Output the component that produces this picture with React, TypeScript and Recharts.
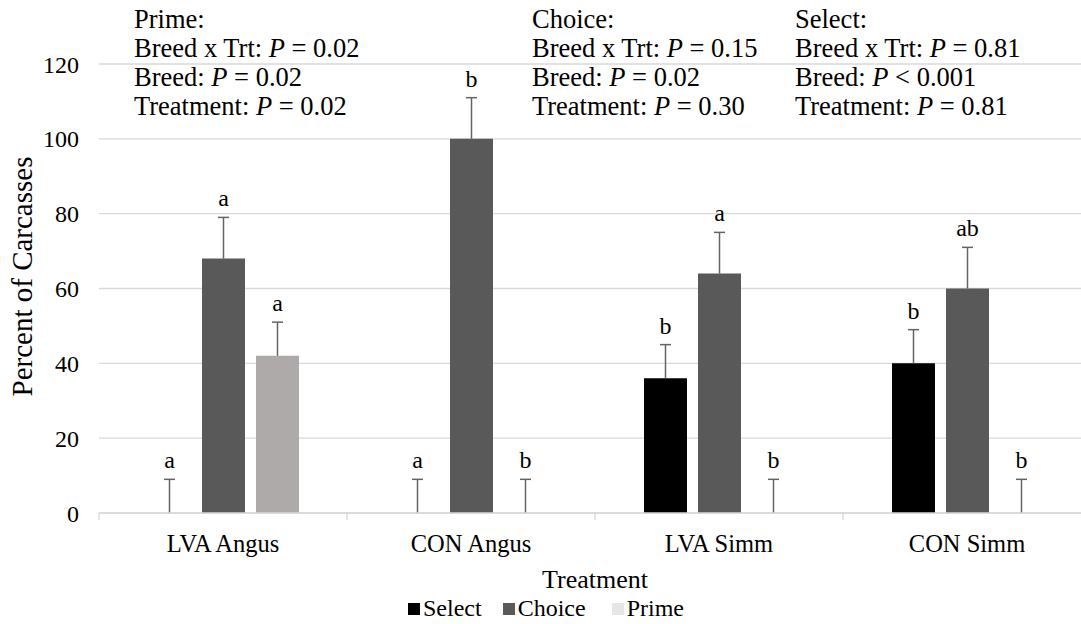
import React from "react";
import {
  BarChart,
  Bar,
  XAxis,
  YAxis,
  CartesianGrid,
  LabelList,
  Legend,
  ReferenceLine,
} from "recharts";

const treatments = ["LVA Angus", "CON Angus", "LVA Simm", "CON Simm"];

// percent of carcasses per grade, with the upper error (SE) of each bar
const selectPct = [0, 0, 36, 40];
const choicePct = [68, 100, 64, 60];
const primePct = [42, 0, 0, 0];
const selectSe = [9, 9, 9, 9];
const choiceSe = [11, 11, 11, 11];
const primeSe = [9, 9, 9, 9];

// mean separation letters
const selectLetters = ["a", "a", "b", "b"];
const choiceLetters = ["a", "b", "a", "ab"];
const primeLetters = ["a", "b", "b", "b"];

const yTicks = [0, 20, 40, 60, 80, 100, 120];

// P-value notes printed above the bars
const gradeTitles = ["Prime:", "Choice:", "Select:"];
const interactionP = ["= 0.02", "= 0.15", "= 0.81"];
const breedP = ["= 0.02", "= 0.02", "< 0.001"];
const treatmentP = ["= 0.02", "= 0.30", "= 0.81"];
const noteLeft = [134, 532, 795];

const legendItems = [
  { name: "Select", color: "#000000", gap: 21 },
  { name: "Choice", color: "#595959", gap: 26 },
  { name: "Prime", color: "#E7E6E6", gap: 0 },
];

const FONT = "Liberation Serif, Times New Roman, serif";
const GRID = "#D9D9D9";
const WHISKER = "#646464";

const data = treatments.map((name, i) => ({
  name,
  select: selectPct[i],
  choice: choicePct[i],
  prime: primePct[i],
  selectSe: selectSe[i],
  choiceSe: choiceSe[i],
  primeSe: primeSe[i],
  selectLetter: selectLetters[i],
  choiceLetter: choiceLetters[i],
  primeLetter: primeLetters[i],
}));

// upper error whisker: stem over the stacked SE segment plus a cap on top
function Whisker(props: any) {
  const { x, y, width, height } = props;
  if (x == null || y == null || !height) return null;
  const cx = x + width / 2;
  return (
    <g stroke={WHISKER} strokeWidth={1.5}>
      <line x1={cx} y1={y} x2={cx} y2={y + height} />
      <line x1={cx - 5.5} y1={y} x2={cx + 5.5} y2={y} />
    </g>
  );
}

function YTitle(props: any) {
  const vb = props.viewBox || { x: 0, y: 0, width: 0, height: 0 };
  const cy = vb.y + vb.height / 2 - 12;
  return (
    <text
      x={22}
      y={cy}
      transform={`rotate(-90, 22, ${cy})`}
      textAnchor="middle"
      dominantBaseline="central"
      fontFamily={FONT}
      fontSize={29}
      fill="#000"
    >
      Percent of Carcasses
    </text>
  );
}

function LegendRow() {
  return (
    <div
      style={{
        height: 31,
        lineHeight: "31px",
        paddingLeft: 408,
        fontFamily: FONT,
        fontSize: 24,
        color: "#000",
        whiteSpace: "nowrap",
        textAlign: "left",
      }}
    >
      {legendItems.map((item) => (
        <span key={item.name} style={{ marginRight: item.gap }}>
          <span
            style={{
              display: "inline-block",
              width: 12,
              height: 12,
              marginRight: 3,
              marginBottom: 1,
              background: item.color,
            }}
          />
          {item.name}
        </span>
      ))}
    </div>
  );
}

function Notes() {
  const baselines = [28, 57, 86, 115];
  return (
    <svg
      width={1081}
      height={140}
      style={{ position: "absolute", left: 0, top: 0, pointerEvents: "none" }}
    >
      {gradeTitles.map((title, i) => (
        <text key={title} fontFamily={FONT} fontSize={26.5} fill="#000">
          <tspan x={noteLeft[i]} y={baselines[0]}>
            {title}
          </tspan>
          <tspan x={noteLeft[i]} y={baselines[1]}>
            {"Breed x Trt: "}
            <tspan fontStyle="italic">P</tspan>
            {" " + interactionP[i]}
          </tspan>
          <tspan x={noteLeft[i]} y={baselines[2]}>
            {"Breed: "}
            <tspan fontStyle="italic">P</tspan>
            {" " + breedP[i]}
          </tspan>
          <tspan x={noteLeft[i]} y={baselines[3]}>
            {"Treatment: "}
            <tspan fontStyle="italic">P</tspan>
            {" " + treatmentP[i]}
          </tspan>
        </text>
      ))}
    </svg>
  );
}

const letterStyle = { fontFamily: FONT, fontSize: 24, fill: "#000" };

export default function App() {
  return (
    <div
      style={{
        position: "absolute",
        left: 0,
        top: 0,
        width: 1081,
        height: 624,
        overflow: "hidden",
        background: "#fff",
      }}
    >
      <BarChart
        width={1100}
        height={624}
        data={data}
        margin={{ top: 64, right: 9, bottom: 0, left: 0 }}
        barSize={43}
        barGap={11}
      >
        <CartesianGrid vertical={false} stroke={GRID} strokeWidth={1.3} />
        <XAxis
          xAxisId="cat"
          dataKey="name"
          axisLine={{ stroke: GRID, strokeWidth: 1.3 }}
          tickLine={false}
          tickSize={0}
          tickMargin={22}
          height={80}
          tick={{ fontFamily: FONT, fontSize: 24.5, fill: "#000" }}
          label={{
            value: "Treatment",
            position: "insideBottom",
            offset: 5,
            style: { fontFamily: FONT, fontSize: 26, fill: "#000" },
          }}
        />
        <XAxis xAxisId="lab" dataKey="name" hide />
        <YAxis
          domain={[0, 120]}
          ticks={yTicks}
          width={99}
          axisLine={false}
          tickLine={false}
          tickSize={0}
          tickMargin={20}
          tick={{ fontFamily: FONT, fontSize: 24, fill: "#000" }}
          label={<YTitle />}
        />
        <Legend verticalAlign="bottom" height={31} content={() => <LegendRow />} />

        {/* short tick marks at the start of each treatment group */}
        {treatments.map((t) => (
          <ReferenceLine
            key={t}
            xAxisId="cat"
            position="start"
            ifOverflow="visible"
            segment={[
              { x: t, y: 0 },
              { x: t, y: -1.9 },
            ]}
            stroke={GRID}
            strokeWidth={1.3}
          />
        ))}

        <Bar xAxisId="cat" dataKey="select" name="Select" fill="#000000" isAnimationActive={false} />
        <Bar xAxisId="cat" dataKey="choice" name="Choice" fill="#595959" isAnimationActive={false} />
        <Bar xAxisId="cat" dataKey="prime" name="Prime" fill="#AEAAAA" isAnimationActive={false} />

        {/* stacked twins on a hidden axis: an empty base plus the SE segment drawn as a whisker */}
        <Bar xAxisId="lab" stackId="s" dataKey="select" fill="none" legendType="none" isAnimationActive={false} />
        <Bar xAxisId="lab" stackId="s" dataKey="selectSe" shape={<Whisker />} legendType="none" isAnimationActive={false}>
          <LabelList dataKey="selectLetter" position="top" offset={11} style={letterStyle} />
        </Bar>
        <Bar xAxisId="lab" stackId="c" dataKey="choice" fill="none" legendType="none" isAnimationActive={false} />
        <Bar xAxisId="lab" stackId="c" dataKey="choiceSe" shape={<Whisker />} legendType="none" isAnimationActive={false}>
          <LabelList dataKey="choiceLetter" position="top" offset={11} style={letterStyle} />
        </Bar>
        <Bar xAxisId="lab" stackId="p" dataKey="prime" fill="none" legendType="none" isAnimationActive={false} />
        <Bar xAxisId="lab" stackId="p" dataKey="primeSe" shape={<Whisker />} legendType="none" isAnimationActive={false}>
          <LabelList dataKey="primeLetter" position="top" offset={11} style={letterStyle} />
        </Bar>
      </BarChart>
      <Notes />
    </div>
  );
}
